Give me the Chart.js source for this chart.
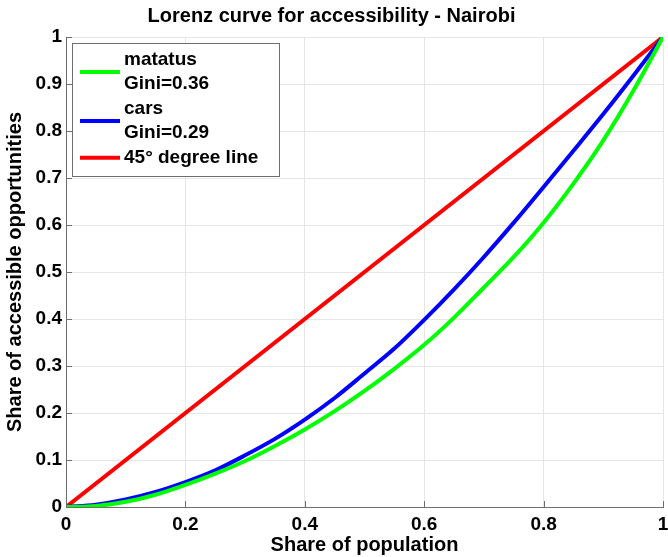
<!DOCTYPE html>
<html>
<head>
<meta charset="utf-8">
<script src="https://cdn.jsdelivr.net/npm/chart.js@4"></script>
<style>
  html, body { margin: 0; padding: 0; background: #fff; }
</style>
</head>
<body>
<canvas id="lorenz_grafik" width="668" height="557"></canvas>
<script>
// share of population (x) and cumulative share of accessible opportunities (y)
const populationShare = [0, 0.05, 0.1, 0.15, 0.2, 0.25, 0.3, 0.35, 0.4, 0.45, 0.5, 0.55, 0.6, 0.65, 0.7, 0.75, 0.8, 0.85, 0.9, 0.95, 1];
const matatusShare = [0, 0.002, 0.011, 0.026, 0.047, 0.071, 0.098, 0.13, 0.165, 0.204, 0.247, 0.294, 0.345, 0.403, 0.467, 0.532, 0.605, 0.688, 0.78, 0.885, 1];
const carsShare = [0, 0.005, 0.016, 0.032, 0.053, 0.078, 0.11, 0.145, 0.186, 0.232, 0.284, 0.337, 0.398, 0.463, 0.532, 0.605, 0.681, 0.758, 0.836, 0.917, 1];
const equalityX = [0, 1];
const equalityY = [0, 1];

const seriesNames = ['matatus', 'cars', '45° degree line'];
const giniTexts = ['Gini=0.36', 'Gini=0.29', ''];
const seriesColors = ['#00ff00', '#0000ff', '#ff0000'];

const fontFam = "'Liberation Sans', Arial, Helvetica, sans-serif";

const toPoints = (xs, ys) => xs.map((x, i) => ({ x: x, y: ys[i] }));
const tickText = v => String(Math.round(v * 10) / 10);

// matlab style ticks pointing into the plot
const icTikler = {
  id: 'icTikler',
  afterDatasetsDraw(chart) {
    const { ctx, chartArea: a, scales: { x, y } } = chart;
    ctx.save();
    ctx.strokeStyle = '#6e6e6e';
    ctx.lineWidth = 1;
    ctx.beginPath();
    x.ticks.forEach(t => {
      const px = Math.round(x.getPixelForValue(t.value)) + 0.5;
      ctx.moveTo(px, a.bottom);
      ctx.lineTo(px, a.bottom - 6);
    });
    y.ticks.forEach(t => {
      const py = Math.round(y.getPixelForValue(t.value)) + 0.5;
      ctx.moveTo(a.left, py);
      ctx.lineTo(a.left + 6, py);
    });
    ctx.stroke();
    ctx.restore();
  }
};

// legend box inside the axes, top left
const kutuLejant = {
  id: 'kutuLejant',
  afterDraw(chart) {
    const { ctx, chartArea: a } = chart;
    const bx = a.left + 6, by = a.top + 6, bw = 207, bh = 133;
    const rowH = 24.5;
    ctx.save();
    ctx.fillStyle = '#fff';
    ctx.fillRect(bx, by, bw, bh);
    ctx.strokeStyle = '#6e6e6e';
    ctx.lineWidth = 1;
    ctx.strokeRect(bx + 0.5, by + 0.5, bw, bh);
    ctx.font = 'bold 19px ' + fontFam;
    ctx.fillStyle = '#000';
    ctx.textBaseline = 'middle';
    ctx.textAlign = 'left';
    let row = 0;
    chart.data.datasets.forEach((ds, i) => {
      const lines = [seriesNames[i]];
      if (giniTexts[i]) lines.push(giniTexts[i]);
      const y0 = by + 16.7 + row * rowH;
      const yLine = y0 + (lines.length - 1) * rowH / 2;
      ctx.strokeStyle = ds.borderColor;
      ctx.lineWidth = 4;
      ctx.beginPath();
      ctx.moveTo(bx + 8, yLine);
      ctx.lineTo(bx + 48, yLine);
      ctx.stroke();
      lines.forEach((t, k) => ctx.fillText(t, bx + 52, y0 + k * rowH));
      row += lines.length;
    });
    ctx.restore();
  }
};

const ctxLorenz = document.getElementById('lorenz_grafik');
new Chart(ctxLorenz, {
  type: 'line',
  data: {
    datasets: [{
      label: seriesNames[0],
      data: toPoints(populationShare, matatusShare),
      borderColor: seriesColors[0],
      borderWidth: 4,
      pointRadius: 0,
      cubicInterpolationMode: 'monotone',
      fill: false
    }, {
      label: seriesNames[1],
      data: toPoints(populationShare, carsShare),
      borderColor: seriesColors[1],
      borderWidth: 4,
      pointRadius: 0,
      cubicInterpolationMode: 'monotone',
      fill: false
    }, {
      label: seriesNames[2],
      data: toPoints(equalityX, equalityY),
      borderColor: seriesColors[2],
      borderWidth: 4,
      pointRadius: 0,
      fill: false
    }]
  },
  options: {
    responsive: false,
    animation: false,
    layout: {
      padding: { left: 0, right: 5, top: 0, bottom: 0 }
    },
    plugins: {
      legend: { display: false },
      tooltip: { enabled: false },
      title: {
        display: true,
        text: 'Lorenz curve for accessibility - Nairobi',
        color: '#000',
        font: { family: fontFam, size: 20, weight: 'bold', lineHeight: 1.2 },
        padding: { top: 4, bottom: 9 }
      }
    },
    scales: {
      x: {
        type: 'linear',
        min: 0,
        max: 1,
        afterFit(scale) {
          scale.height = 50;
          scale.paddingLeft = 0;
          scale.paddingRight = 0;
        },
        ticks: {
          stepSize: 0.2,
          color: '#000',
          padding: 6,
          maxRotation: 0,
          callback: tickText,
          font: { family: fontFam, size: 19, weight: 'bold' }
        },
        grid: { color: '#e6e6e6', drawTicks: false },
        border: { display: true, color: '#6e6e6e', width: 1 },
        title: {
          display: true,
          text: 'Share of population',
          color: '#000',
          font: { family: fontFam, size: 20, weight: 'bold', lineHeight: 1.2 },
          padding: { top: 0, bottom: 0 }
        }
      },
      y: {
        type: 'linear',
        min: 0,
        max: 1,
        afterFit(scale) {
          scale.width = 66;
          scale.paddingTop = 0;
          scale.paddingBottom = 0;
        },
        ticks: {
          stepSize: 0.1,
          color: '#000',
          padding: 4,
          callback: tickText,
          font: { family: fontFam, size: 19, weight: 'bold' }
        },
        grid: { color: '#e6e6e6', drawTicks: false },
        border: { display: true, color: '#6e6e6e', width: 1 },
        title: {
          display: true,
          text: 'Share of accessible opportunities',
          color: '#000',
          font: { family: fontFam, size: 20, weight: 'bold', lineHeight: 1.2 },
          padding: { top: 3, bottom: 0 }
        }
      }
    }
  },
  plugins: [icTikler, kutuLejant]
});
</script>
</body>
</html>
